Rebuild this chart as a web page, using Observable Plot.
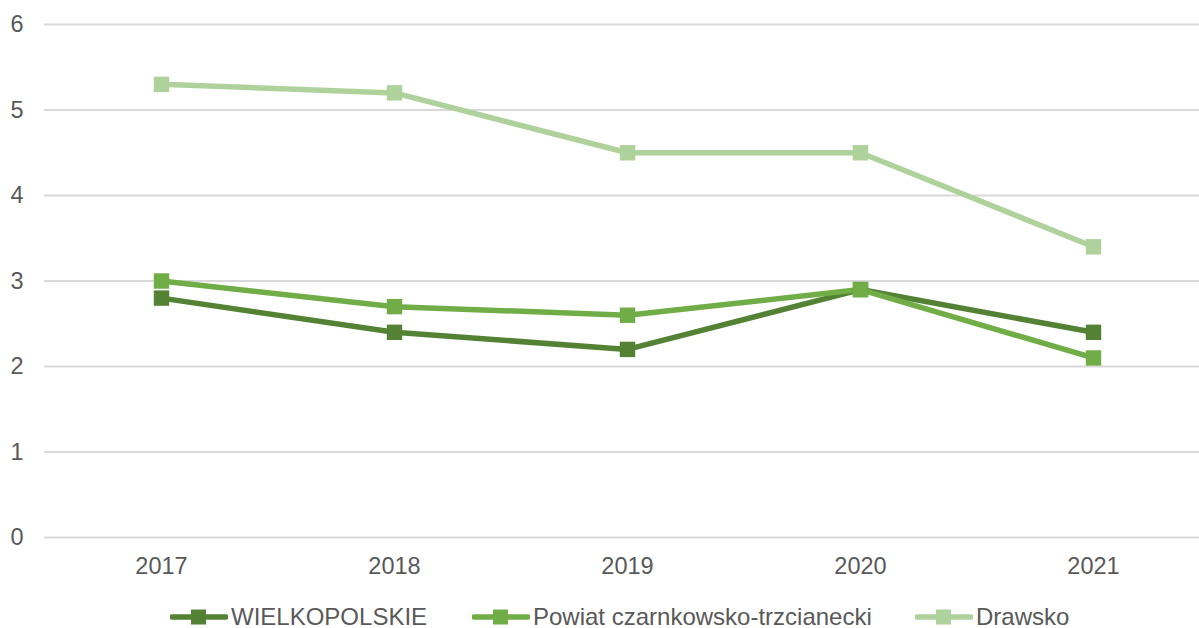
<!DOCTYPE html>
<html>
<head>
<meta charset="utf-8">
<script src="https://cdn.jsdelivr.net/npm/d3@7"></script>
<script src="https://cdn.jsdelivr.net/npm/@observablehq/plot@0.6"></script>
<style>
  html, body { margin: 0; padding: 0; background: #fff; width: 1199px; height: 628px; overflow: hidden; }
  #chart { position: relative; width: 1199px; height: 628px; font-family: "Liberation Sans", Arial, sans-serif; }
  #chart svg { display: block; }
  #legend { position: absolute; left: 0; top: 602px; height: 30px; font-size: 24px; color: #595959; }
  .item { display: flex; align-items: center; position: absolute; top: 0; height: 30px; white-space: nowrap; }
  .item svg { margin-right: 3px; }
</style>
</head>
<body>
<div id="chart"></div>
<script>
const years = ["2017", "2018", "2019", "2020", "2021"];
const seriesNames = ["WIELKOPOLSKIE", "Powiat czarnkowsko-trzcianecki", "Drawsko"];
const wielkopolskie = [2.8, 2.4, 2.2, 2.9, 2.4];
const powiat = [3.0, 2.7, 2.6, 2.9, 2.1];
const drawsko = [5.3, 5.2, 4.5, 4.5, 3.4];
const yTicks = [0, 1, 2, 3, 4, 5, 6];
const colors = ["#548235", "#70AD47", "#AFD29C"];

const seriesValues = [wielkopolskie, powiat, drawsko];
const data = [];
seriesNames.forEach((name, i) => {
  years.forEach((y, j) => data.push({ series: name, year: y, value: seriesValues[i][j] }));
});

const chart = Plot.plot({
  width: 1199,
  height: 600,
  marginTop: 24,
  marginBottom: 63,
  marginLeft: 44,
  marginRight: 0,
  style: { fontFamily: '"Liberation Sans", Arial, sans-serif', fontSize: "23.5px", color: "#595959", background: "#fff" },
  x: { type: "point", domain: years, range: [161, 1093], padding: 0, label: null },
  y: { domain: [0, 6], label: null },
  color: { domain: seriesNames, range: colors },
  marks: [
    Plot.ruleY(yTicks, { stroke: "#d9d9d9", strokeWidth: 2 }),
    Plot.axisY({ ticks: yTicks, tickSize: 0, tickPadding: 21, tickFormat: d => String(d), fill: "#595959", fontSize: 23.5 }),
    Plot.axisX({ tickSize: 0, tickPadding: 20, fill: "#595959", fontSize: 23.5 }),
    Plot.line(data, { x: "year", y: "value", z: "series", stroke: "series", strokeWidth: 5.5, strokeLinejoin: "round", strokeLinecap: "butt" }),
    Plot.dot(data, { x: "year", y: "value", fill: "series", symbol: "square", r: 8.7, stroke: "none" })
  ]
});
document.getElementById("chart").appendChild(chart);

// Legend
const legend = document.createElement("div");
legend.id = "legend";
const lefts = [170, 472, 915];
seriesNames.forEach((name, i) => {
  const item = document.createElement("div");
  item.className = "item";
  item.style.left = lefts[i] + "px";
  item.innerHTML = `<svg width="58" height="20"><line x1="2" x2="56" y1="10" y2="10" stroke="${colors[i]}" stroke-width="5.5" stroke-linecap="round"/><rect x="21" y="2.5" width="15" height="15" fill="${colors[i]}"/></svg><span>${name}</span>`;
  legend.appendChild(item);
});
document.getElementById("chart").appendChild(legend);
</script>
</body>
</html>
